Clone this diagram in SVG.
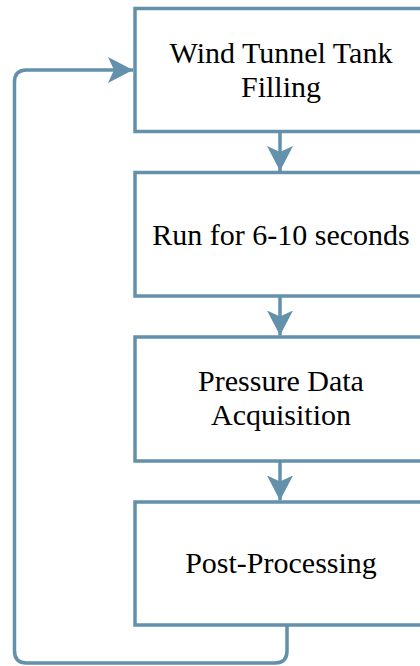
<svg xmlns="http://www.w3.org/2000/svg" width="420" height="666" viewBox="0 0 420 666">
<defs>
<style>
.box{fill:#ffffff;stroke:#6390ab;stroke-width:3.5}
.lbl{font-family:"Liberation Serif","DejaVu Serif",serif;font-size:30px;fill:#000;text-anchor:middle}
.con{fill:none;stroke:#6390ab;stroke-width:3.5}
</style>
<marker id="ah" markerUnits="userSpaceOnUse" markerWidth="26" markerHeight="26" viewBox="0 0 26 26" refX="25" refY="13" orient="auto">
<path d="M0,0 L25,13 L0,26 L6,13 Z" fill="#6390ab"/>
</marker>
</defs>
<rect width="420" height="666" fill="#ffffff"/>
<g id="connectors">
<path class="con" d="M280,131.5 V171" marker-end="url(#ah)"/>
<path class="con" d="M280,296 V335.5" marker-end="url(#ah)"/>
<path class="con" d="M280,461 V500.5" marker-end="url(#ah)"/>
<path class="con" d="M287,625 V651 Q287,663 275,663 H26.5 Q14.5,663 14.5,651 V82 Q14.5,70 26.5,70 H133" marker-end="url(#ah)"/>
</g>
<g id="n1">
<rect class="box" x="135" y="8.5" width="295" height="123"/>
<text class="lbl" x="281" y="63">Wind Tunnel Tank</text>
<text class="lbl" x="281" y="97">Filling</text>
</g>
<g id="n2">
<rect class="box" x="135" y="172.5" width="295" height="123.5"/>
<text class="lbl" x="281" y="245">Run for 6-10 seconds</text>
</g>
<g id="n3">
<rect class="box" x="135" y="337" width="295" height="124"/>
<text class="lbl" x="281" y="391">Pressure Data</text>
<text class="lbl" x="281" y="425">Acquisition</text>
</g>
<g id="n4">
<rect class="box" x="135" y="502" width="295" height="123"/>
<text class="lbl" x="281" y="573">Post-Processing</text>
</g>
</svg>
